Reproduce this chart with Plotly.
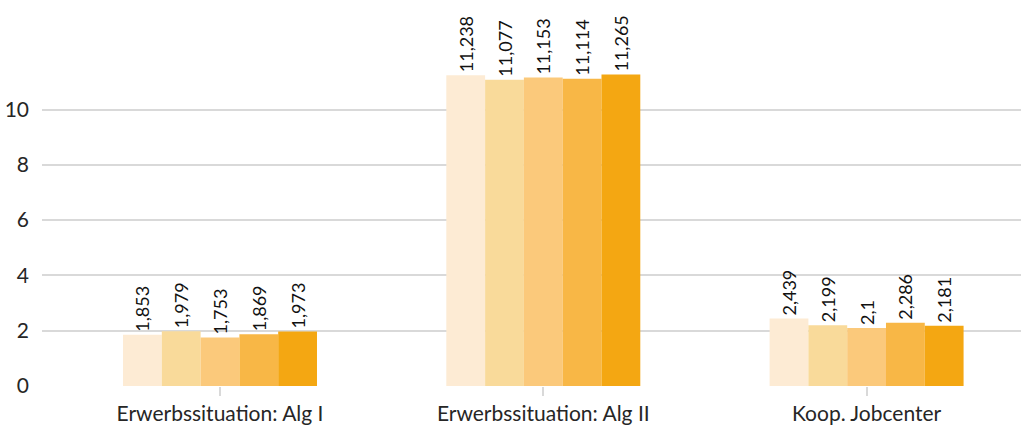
import plotly.graph_objects as go

# Categories on the x axis
categories = ["Erwerbssituation: Alg I", "Erwerbssituation: Alg II", "Koop. Jobcenter"]

# Five series, one value per category
series_names = ["Reihe 1", "Reihe 2", "Reihe 3", "Reihe 4", "Reihe 5"]
series_values = [
    [1.853, 11.238, 2.439],
    [1.979, 11.077, 2.199],
    [1.753, 11.153, 2.1],
    [1.869, 11.114, 2.286],
    [1.973, 11.265, 2.181],
]
series_colors = ["#FDEBD4", "#F9DA9A", "#FBC97B", "#F8B746", "#F4A712"]

y_ticks = [0, 2, 4, 6, 8, 10]

FONT = "Lato, Calibri, Carlito, sans-serif"


def de_label(v):
    # German decimal comma
    return f"{v:g}".replace(".", ",")


fig = go.Figure()
for name, vals, col in zip(series_names, series_values, series_colors):
    fig.add_trace(go.Bar(
        name=name,
        x=categories,
        y=vals,
        marker=dict(color=col, line=dict(width=0)),
        text=[de_label(v) for v in vals],
        textposition="outside",
        textangle=-90,
        constraintext="none",
        textfont=dict(family=FONT, size=18, color="#111111"),
        cliponaxis=False,
    ))

fig.update_layout(
    width=1021,
    height=426,
    margin=dict(l=42, r=0, t=0, b=40),
    paper_bgcolor="white",
    plot_bgcolor="white",
    barmode="group",
    bargap=0.4,
    bargroupgap=0,
    showlegend=False,
    font=dict(family=FONT, size=21, color="#262626"),
)

fig.update_xaxes(
    range=[-0.5506, 2.4776],
    showgrid=False,
    showline=False,
    zeroline=False,
    ticks="outside",
    ticklen=9,
    tickwidth=2,
    tickcolor="#d9d9d9",
    tickfont=dict(family=FONT, size=21, color="#262626"),
)

fig.update_yaxes(
    range=[0, 13.96],
    tickvals=y_ticks,
    ticktext=[str(t) for t in y_ticks],
    showgrid=True,
    gridcolor="#d9d9d9",
    gridwidth=1.5,
    zeroline=False,
    showline=False,
    ticks="",
    ticklabelstandoff=12,
    tickfont=dict(family=FONT, size=21, color="#262626"),
)

fig.write_html("out.html")
